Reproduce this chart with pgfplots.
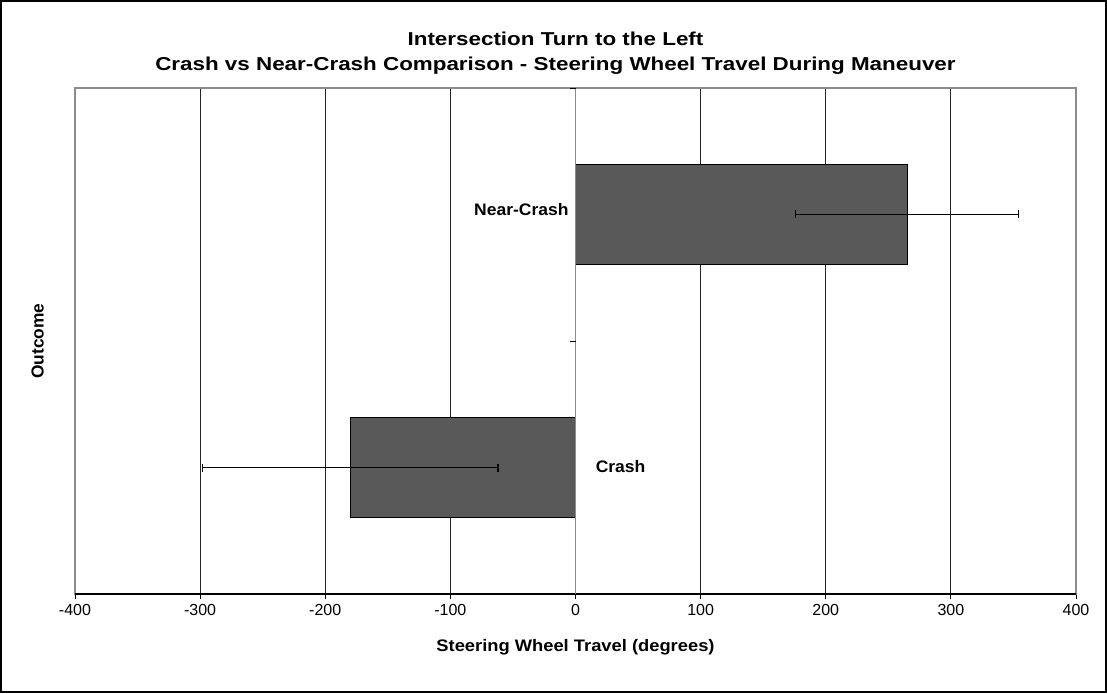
\documentclass[border=0pt]{standalone}
\usepackage{fontspec}
\setmainfont{Liberation Sans}
\usepackage{graphicx}
\usepackage{pgfplots}
\pgfplotsset{compat=1.18}

\definecolor{barfill}{HTML}{595959}
\definecolor{boxgray}{HTML}{8C8C8C}

\begin{document}
\begin{tikzpicture}
\useasboundingbox (-56.25pt,-74.25pt) rectangle (774pt,445.5pt);
\draw[line width=1.5pt] (-55.5pt,-73.5pt) rectangle (773.25pt,444.75pt);
\begin{axis}[
    at={(0pt,0pt)}, anchor=south west,
    scale only axis,
    width=750.75pt, height=379.5pt,
    xbar, bar width=75pt,
    xmin=-400, xmax=400,
    ymin=0, ymax=2,
    xtick={-400,-300,...,400},
    ytick=\empty,
    xtick pos=bottom,
    tick align=outside,
    major tick length=4pt,
    xmajorgrids,
    grid style={black!85, line width=0.6pt},
    axis line style={boxgray, line width=0.8pt},
    tick style={black, line width=0.6pt},
    /pgf/number format/assume math mode=true,
    tick label style={font=\fontsize{12}{14}\selectfont},
    xlabel={\scalebox{1.1}[1]{Steering Wheel Travel (degrees)}},
    label style={font=\bfseries\fontsize{12.5}{14}\selectfont},
    xlabel style={yshift=-11pt},
    clip=false,
]
\addplot[fill=barfill, draw=black, line width=0.8pt,
    error bars/.cd, x dir=both, x explicit,
    error mark=|, error mark options={black, line width=1pt, mark size=3pt},
    error bar style={black, line width=0.9pt}]
    coordinates {
    (-180,0.5) +- (118,0)
    (265,1.5) +- (89,0)
};
\draw[black, line width=0.9pt] (axis cs:-400,0) -- (axis cs:400,0);
\draw[boxgray, line width=0.8pt] (axis cs:0,0) -- (axis cs:0,2);
\draw[black, line width=0.6pt] (axis cs:0,1) -- ++(-4pt,0pt);
\draw[black, line width=0.6pt] (axis cs:0,2) -- ++(-4pt,0pt);
\node[anchor=east, font=\bfseries\fontsize{12.5}{14}\selectfont, inner sep=0pt]
    at (axis cs:0,1.5) [xshift=-5pt, yshift=4pt] {\scalebox{1.05}[1]{Near-Crash}};
\node[anchor=west, font=\bfseries\fontsize{12.5}{14}\selectfont, inner sep=0pt]
    at (axis cs:0,0.5) [xshift=15pt, yshift=1pt] {\scalebox{1.05}[1]{Crash}};
\node[xshift=-28pt, rotate=90, font=\bfseries\fontsize{13}{15}\selectfont, inner sep=0pt]
    at (rel axis cs:0,0.5) {Outcome};
\node[anchor=south, align=center, font=\bfseries\fontsize{14}{19}\selectfont, inner sep=0pt,
    xshift=-15pt, yshift=10pt]
    at (rel axis cs:0.5,1)
    {\scalebox{1.2}[1]{Intersection Turn to the Left}\\
     \scalebox{1.2}[1]{Crash vs Near-Crash Comparison - Steering Wheel Travel During Maneuver}};
\end{axis}
\end{tikzpicture}
\end{document}
